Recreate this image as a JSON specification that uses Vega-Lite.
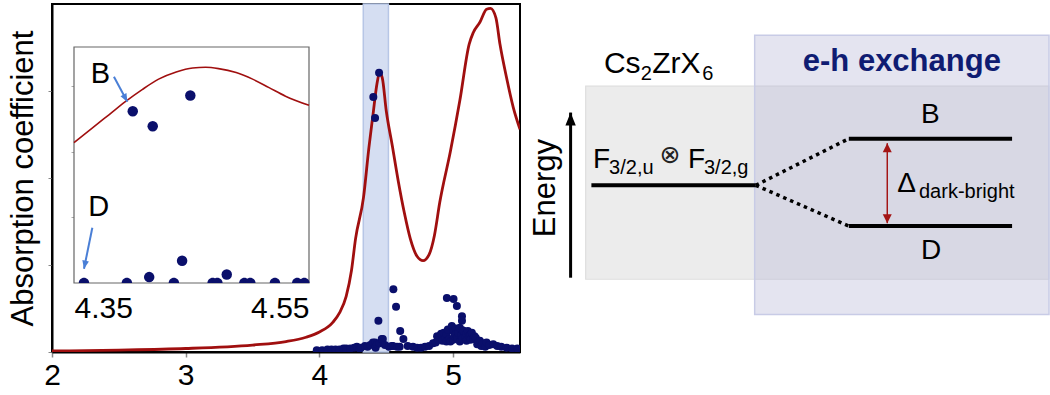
{
  "$schema": "https://vega.github.io/schema/vega-lite/v6.json",
  "background": "white",
  "padding": {"left": 6, "top": 2, "right": 0, "bottom": 0},
  "config": {"font": "Liberation Sans", "view": {"stroke": null}},
  "spacing": 9,
  "bounds": "flush",
  "datasets": {
    "band": [{"energy": 4.328, "energy_end": 4.516}],
    "spectrum": [
      {"energy": 2.0, "absorption": 0.012}, {"energy": 2.5, "absorption": 0.022}, {"energy": 3.0, "absorption": 0.04},
      {"energy": 3.5, "absorption": 0.08}, {"energy": 3.75, "absorption": 0.12}, {"energy": 3.9, "absorption": 0.17},
      {"energy": 4.0, "absorption": 0.23}, {"energy": 4.1, "absorption": 0.34}, {"energy": 4.15, "absorption": 0.45},
      {"energy": 4.2, "absorption": 0.64}, {"energy": 4.24, "absorption": 0.94}, {"energy": 4.27, "absorption": 1.3},
      {"energy": 4.33, "absorption": 1.78}, {"energy": 4.37, "absorption": 2.35}, {"energy": 4.4, "absorption": 2.72},
      {"energy": 4.43, "absorption": 3.08}, {"energy": 4.45, "absorption": 3.21}, {"energy": 4.47, "absorption": 3.15},
      {"energy": 4.5, "absorption": 2.77}, {"energy": 4.545, "absorption": 2.37}, {"energy": 4.59, "absorption": 1.96},
      {"energy": 4.635, "absorption": 1.6}, {"energy": 4.68, "absorption": 1.3}, {"energy": 4.73, "absorption": 1.1},
      {"energy": 4.775, "absorption": 1.05}, {"energy": 4.82, "absorption": 1.12}, {"energy": 4.86, "absorption": 1.34},
      {"energy": 4.9, "absorption": 1.72}, {"energy": 4.98, "absorption": 2.31}, {"energy": 5.05, "absorption": 2.89},
      {"energy": 5.12, "absorption": 3.54}, {"energy": 5.15, "absorption": 3.67}, {"energy": 5.2, "absorption": 3.79},
      {"energy": 5.25, "absorption": 3.94}, {"energy": 5.28, "absorption": 3.95}, {"energy": 5.32, "absorption": 3.84},
      {"energy": 5.35, "absorption": 3.54}, {"energy": 5.4, "absorption": 3.15}, {"energy": 5.45, "absorption": 2.81},
      {"energy": 5.5, "absorption": 2.56}
    ],
    "states": [
      {"energy": 3.98, "strength": 0.02}, {"energy": 4.02, "strength": 0.02}, {"energy": 4.06, "strength": 0.03},
      {"energy": 4.09, "strength": 0.03}, {"energy": 4.12, "strength": 0.03}, {"energy": 4.15, "strength": 0.03},
      {"energy": 4.18, "strength": 0.04}, {"energy": 4.2, "strength": 0.04}, {"energy": 4.23, "strength": 0.04},
      {"energy": 4.26, "strength": 0.05}, {"energy": 4.28, "strength": 0.06}, {"energy": 4.3, "strength": 0.04},
      {"energy": 4.31, "strength": 0.05}, {"energy": 4.34, "strength": 0.07}, {"energy": 4.36, "strength": 0.06},
      {"energy": 4.38, "strength": 0.08}, {"energy": 4.4, "strength": 0.11}, {"energy": 4.416, "strength": 0.11},
      {"energy": 4.42, "strength": 0.05}, {"energy": 4.43, "strength": 0.09}, {"energy": 4.45, "strength": 0.1},
      {"energy": 4.466, "strength": 0.15}, {"energy": 4.474, "strength": 0.15}, {"energy": 4.49, "strength": 0.08},
      {"energy": 4.52, "strength": 0.06}, {"energy": 4.54, "strength": 0.07}, {"energy": 4.55, "strength": 0.07},
      {"energy": 4.58, "strength": 0.06}, {"energy": 4.6, "strength": 0.06}, {"energy": 4.66, "strength": 0.07},
      {"energy": 4.7, "strength": 0.06}, {"energy": 4.73, "strength": 0.05}, {"energy": 4.76, "strength": 0.05},
      {"energy": 4.79, "strength": 0.06}, {"energy": 4.82, "strength": 0.07}, {"energy": 4.85, "strength": 0.1},
      {"energy": 4.87, "strength": 0.11}, {"energy": 4.88, "strength": 0.18}, {"energy": 4.89, "strength": 0.14},
      {"energy": 4.9, "strength": 0.18}, {"energy": 4.91, "strength": 0.21}, {"energy": 4.92, "strength": 0.13},
      {"energy": 4.93, "strength": 0.22}, {"energy": 4.94, "strength": 0.16}, {"energy": 4.95, "strength": 0.2},
      {"energy": 4.95, "strength": 0.12}, {"energy": 4.96, "strength": 0.26}, {"energy": 4.97, "strength": 0.15},
      {"energy": 4.98, "strength": 0.12}, {"energy": 4.99, "strength": 0.3}, {"energy": 5.0, "strength": 0.24},
      {"energy": 5.0, "strength": 0.14}, {"energy": 5.01, "strength": 0.18}, {"energy": 5.02, "strength": 0.27},
      {"energy": 5.02, "strength": 0.2}, {"energy": 5.03, "strength": 0.16}, {"energy": 5.04, "strength": 0.22},
      {"energy": 5.05, "strength": 0.28}, {"energy": 5.05, "strength": 0.12}, {"energy": 5.06, "strength": 0.19},
      {"energy": 5.07, "strength": 0.25}, {"energy": 5.07, "strength": 0.15}, {"energy": 5.08, "strength": 0.24},
      {"energy": 5.09, "strength": 0.17}, {"energy": 5.1, "strength": 0.21}, {"energy": 5.1, "strength": 0.13},
      {"energy": 5.11, "strength": 0.24}, {"energy": 5.12, "strength": 0.18}, {"energy": 5.13, "strength": 0.2},
      {"energy": 5.13, "strength": 0.14}, {"energy": 5.14, "strength": 0.22}, {"energy": 5.15, "strength": 0.15},
      {"energy": 5.16, "strength": 0.18}, {"energy": 5.17, "strength": 0.16}, {"energy": 5.18, "strength": 0.09},
      {"energy": 5.19, "strength": 0.12}, {"energy": 5.2, "strength": 0.13}, {"energy": 5.21, "strength": 0.07},
      {"energy": 5.22, "strength": 0.1}, {"energy": 5.24, "strength": 0.06}, {"energy": 5.25, "strength": 0.11},
      {"energy": 5.27, "strength": 0.08}, {"energy": 5.3, "strength": 0.09}, {"energy": 5.33, "strength": 0.07},
      {"energy": 5.36, "strength": 0.06}, {"energy": 5.4, "strength": 0.05}, {"energy": 5.44, "strength": 0.04},
      {"energy": 5.48, "strength": 0.04},
      {"energy": 4.403, "strength": 2.93}, {"energy": 4.416, "strength": 2.69}, {"energy": 4.446, "strength": 3.21},
      {"energy": 4.441, "strength": 0.36}, {"energy": 4.553, "strength": 0.72}, {"energy": 4.573, "strength": 0.52},
      {"energy": 4.604, "strength": 0.24}, {"energy": 4.628, "strength": 0.15}, {"energy": 4.953, "strength": 0.62},
      {"energy": 5.003, "strength": 0.61}, {"energy": 5.028, "strength": 0.53}, {"energy": 5.066, "strength": 0.41},
      {"energy": 5.066, "strength": 0.36}
    ],
    "inset_frame": [{"energy": 4.35, "energy_end": 4.55, "absorption": 0, "absorption_end": 3.6}],
    "inset_spectrum": [
      {"energy": 4.35, "absorption": 2.14}, {"energy": 4.366, "absorption": 2.37}, {"energy": 4.38, "absorption": 2.57},
      {"energy": 4.394, "absorption": 2.77}, {"energy": 4.408, "absorption": 2.95}, {"energy": 4.422, "absorption": 3.11},
      {"energy": 4.437, "absorption": 3.22}, {"energy": 4.451, "absorption": 3.28}, {"energy": 4.462, "absorption": 3.29},
      {"energy": 4.473, "absorption": 3.27}, {"energy": 4.488, "absorption": 3.21}, {"energy": 4.502, "absorption": 3.11},
      {"energy": 4.516, "absorption": 2.98}, {"energy": 4.53, "absorption": 2.85}, {"energy": 4.55, "absorption": 2.71}
    ],
    "inset_states": [
      {"energy": 4.3585, "strength": 0}, {"energy": 4.395, "strength": 0}, {"energy": 4.414, "strength": 0.09},
      {"energy": 4.435, "strength": 0}, {"energy": 4.442, "strength": 0.34}, {"energy": 4.468, "strength": 0},
      {"energy": 4.472, "strength": 0}, {"energy": 4.48, "strength": 0.13}, {"energy": 4.495, "strength": 0},
      {"energy": 4.5, "strength": 0}, {"energy": 4.521, "strength": 0}, {"energy": 4.54, "strength": 0},
      {"energy": 4.546, "strength": 0}, {"energy": 4.4, "strength": 2.62}, {"energy": 4.417, "strength": 2.39},
      {"energy": 4.449, "strength": 2.86}
    ],
    "inset_labels": [
      {"label": "B", "energy": 4.3642, "absorption": 3.05},
      {"label": "D", "energy": 4.3622, "absorption": 1.02}
    ],
    "inset_arrows": [
      {"target": "B", "energy": 4.384, "absorption": 3.145, "energy_end": 4.3954, "absorption_end": 2.764},
      {"target": "D", "energy": 4.3656, "absorption": 0.843, "energy_end": 4.3585, "absorption_end": 0.218}
    ],
    "panels": [
      {"panel": "Cs2ZrX6", "position": 10.9, "position_end": 100, "energy": 20.9, "energy_end": 76.4},
      {"panel": "e-h exchange", "position": 43.4, "position_end": 100, "energy": 10.8, "energy_end": 91.0}
    ],
    "levels": [
      {"state": "F", "position": 12.0, "position_end": 43.6, "energy": 47.9},
      {"state": "B", "position": 61.5, "position_end": 92.9, "energy": 61.3},
      {"state": "D", "position": 61.5, "position_end": 92.9, "energy": 36.2}
    ],
    "splitting": [
      {"to": "B", "position": 43.6, "energy": 47.9, "position_end": 61.5, "energy_end": 61.3},
      {"to": "D", "position": 43.6, "energy": 47.9, "position_end": 61.5, "energy_end": 36.2}
    ],
    "arrows": [
      {"arrow": "energy", "position": 8.0, "energy": 21.35, "energy_end": 68.8},
      {"arrow": "gap", "position": 68.9, "energy": 37.0, "energy_end": 60.0}
    ],
    "texts": [
      {"role": "title", "label": "Cs", "position": 14.4, "energy": 80.3},
      {"role": "title", "label": "ZrX", "position": 23.7, "energy": 80.3},
      {"role": "subscript", "label": "2", "position": 21.5, "energy": 78.2},
      {"role": "subscript", "label": "6", "position": 33.3, "energy": 78.2},
      {"role": "header", "label": "e-h exchange", "position": 71.7, "energy": 80.7},
      {"role": "symbol", "label": "B", "position": 75.4, "energy": 65.9},
      {"role": "symbol", "label": "D", "position": 75.4, "energy": 26.6},
      {"role": "symbol", "label": "F", "position": 12.3, "energy": 53.0},
      {"role": "symbol", "label": "F", "position": 30.6, "energy": 53.0},
      {"role": "symbol", "label": "Δ", "position": 70.8, "energy": 46.1},
      {"role": "subscript", "label": "3/2,u", "position": 15.4, "energy": 51.1},
      {"role": "subscript", "label": "3/2,g", "position": 33.65, "energy": 51.1},
      {"role": "subscript", "label": "dark-bright", "position": 75.0, "energy": 44.3},
      {"role": "operator", "label": "⊗", "position": 27.1, "energy": 56.6},
      {"role": "axis", "label": "Energy", "position": 3.2, "energy": 47.1}
    ]
  },
  "hconcat": [
    {
      "width": 468,
      "height": 348,
      "view": {"stroke": "black", "strokeWidth": 2},
      "resolve": {"scale": {"x": "independent", "y": "independent"}, "axis": {"x": "independent", "y": "independent"}},
      "layer": [
        {
          "encoding": {
            "x": {"field": "energy", "type": "quantitative", "scale": {"domain": [2, 5.5], "nice": false, "zero": false},
              "axis": {"title": null, "values": [2, 3, 4, 5], "labelFontSize": 30, "labelColor": "black", "labelPadding": 3, "labelFlush": false, "tickSize": 5, "tickColor": "#888", "tickWidth": 1.5, "domainColor": "black", "domainWidth": 2, "grid": false}}
          },
          "layer": [
            {"data": {"name": "band"}, "mark": {"type": "rect", "fill": "#d5def2", "stroke": "#b7c6e6", "strokeWidth": 1.5},
              "encoding": {"x2": {"field": "energy_end"}}},
            {"data": {"name": "spectrum"}, "mark": {"type": "line", "color": "#a00f0f", "strokeWidth": 2.8, "interpolate": "monotone", "clip": true},
              "encoding": {"y": {"field": "absorption", "type": "quantitative", "scale": {"domain": [0, 4], "nice": false},
                "axis": {"title": "Absorption coefficient", "titleFontSize": 31, "titleFontWeight": "normal", "titleColor": "black", "titlePadding": 8, "labels": false, "values": [0, 1, 2, 3], "tickSize": 4, "tickColor": "#888", "domainColor": "black", "domainWidth": 2, "grid": false}}}},
            {"data": {"name": "states"}, "mark": {"type": "circle", "color": "#0a0f6b", "opacity": 1, "size": 64, "clip": true},
              "encoding": {"y": {"field": "strength", "type": "quantitative", "scale": {"domain": [0, 4], "nice": false},
                "axis": {"title": "Absorption coefficient", "titleFontSize": 31, "titleFontWeight": "normal", "titleColor": "black", "titlePadding": 8, "labels": false, "values": [0, 1, 2, 3], "tickSize": 4, "tickColor": "#888", "domainColor": "black", "domainWidth": 2, "grid": false}}}}
          ]
        },
        {
          "encoding": {
            "x": {"field": "energy", "type": "quantitative", "scale": {"domain": [4.35, 4.55], "range": [22, 257], "nice": false, "zero": false},
              "axis": {"orient": "bottom", "offset": -69, "title": null, "values": [4.35, 4.55], "format": ".2f", "labelFontSize": 30, "labelColor": "black", "labelFlush": true, "labelPadding": 10, "ticks": false, "domain": false, "grid": false}},
            "y": {"field": "absorption", "type": "quantitative", "scale": {"domain": [0, 3.6], "range": [279, 43], "nice": false},
              "axis": {"orient": "left", "offset": -22, "title": null, "labels": false, "values": [1, 2, 3], "tickSize": 3, "tickColor": "#aaa", "domain": false, "grid": false}}
          },
          "layer": [
            {"data": {"name": "inset_frame"}, "mark": {"type": "rect", "fill": "white", "stroke": "#666", "strokeWidth": 1.2},
              "encoding": {"x2": {"field": "energy_end"}, "y2": {"field": "absorption_end"}}},
            {"data": {"name": "inset_spectrum"}, "mark": {"type": "line", "color": "#a00f0f", "strokeWidth": 1.6, "interpolate": "monotone"}},
            {"data": {"name": "inset_states"}, "transform": [{"filter": "datum.strength > 0"}],
              "mark": {"type": "circle", "color": "#0a0f6b", "opacity": 1, "size": 110},
              "encoding": {"y": {"field": "strength", "type": "quantitative", "title": null}}},
            {"data": {"name": "inset_states"}, "transform": [{"filter": "datum.strength == 0"}],
              "mark": {"type": "point", "shape": "M-1,0A1,1,0,0,1,1,0Z", "filled": true, "color": "#0a0f6b", "opacity": 1, "size": 110},
              "encoding": {"y": {"field": "strength", "type": "quantitative", "title": null}}},
            {"data": {"name": "inset_arrows"}, "mark": {"type": "rule", "color": "#4a7fd6", "strokeWidth": 2},
              "encoding": {"x2": {"field": "energy_end"}, "y2": {"field": "absorption_end"}}},
            {"data": {"name": "inset_arrows"}, "transform": [{"filter": "datum.target == 'B'"}],
              "mark": {"type": "point", "shape": "M0,-1L0.8,1L-0.8,1Z", "filled": true, "color": "#4a7fd6", "opacity": 1, "size": 70, "angle": 152, "xOffset": -1.9, "yOffset": -3.5},
              "encoding": {"x": {"field": "energy_end", "type": "quantitative"}, "y": {"field": "absorption_end", "type": "quantitative"}}},
            {"data": {"name": "inset_arrows"}, "transform": [{"filter": "datum.target == 'D'"}],
              "mark": {"type": "point", "shape": "M0,-1L0.8,1L-0.8,1Z", "filled": true, "color": "#4a7fd6", "opacity": 1, "size": 70, "angle": 191.7, "xOffset": 0.8, "yOffset": -3.9},
              "encoding": {"x": {"field": "energy_end", "type": "quantitative"}, "y": {"field": "absorption_end", "type": "quantitative"}}},
            {"data": {"name": "inset_labels"}, "mark": {"type": "text", "fontSize": 29, "color": "black", "align": "left", "baseline": "alphabetic"},
              "encoding": {"text": {"field": "label"}}}
          ]
        }
      ]
    },
    {
      "width": 520,
      "height": 348,
      "view": {"stroke": null},
      "encoding": {
        "x": {"field": "position", "type": "quantitative", "scale": {"domain": [0, 100], "nice": false, "zero": false}, "axis": null},
        "y": {"field": "energy", "type": "quantitative", "scale": {"domain": [0, 100], "nice": false, "zero": false}, "axis": null}
      },
      "layer": [
        {"data": {"name": "panels"}, "transform": [{"filter": "datum.panel == 'Cs2ZrX6'"}],
          "mark": {"type": "rect", "fill": "#ececec", "stroke": "#dedede", "strokeWidth": 1.2},
          "encoding": {"x2": {"field": "position_end"}, "y2": {"field": "energy_end"}}},
        {"data": {"name": "panels"}, "transform": [{"filter": "datum.panel == 'e-h exchange'"}],
          "mark": {"type": "rect", "fill": "#b6b6d6", "fillOpacity": 0.37, "stroke": "#c8cbe6", "strokeWidth": 1.5},
          "encoding": {"x2": {"field": "position_end"}, "y2": {"field": "energy_end"}}},
        {"data": {"name": "levels"}, "mark": {"type": "rule", "color": "black", "strokeWidth": 4},
          "encoding": {"x2": {"field": "position_end"}}},
        {"data": {"name": "splitting"}, "mark": {"type": "rule", "color": "black", "strokeWidth": 3.5, "strokeDash": [3.5, 4]},
          "encoding": {"x2": {"field": "position_end"}, "y2": {"field": "energy_end"}}},
        {"data": {"name": "arrows"}, "transform": [{"filter": "datum.arrow == 'energy'"}],
          "mark": {"type": "rule", "color": "black", "strokeWidth": 3},
          "encoding": {"y2": {"field": "energy_end"}}},
        {"data": {"name": "arrows"}, "transform": [{"filter": "datum.arrow == 'energy'"}],
          "mark": {"type": "point", "shape": "M0,-1L0.8,1L-0.8,1Z", "filled": true, "color": "black", "opacity": 1, "size": 169, "yOffset": 6.5},
          "encoding": {"y": {"field": "energy_end", "type": "quantitative"}}},
        {"data": {"name": "arrows"}, "transform": [{"filter": "datum.arrow == 'gap'"}],
          "mark": {"type": "rule", "color": "#a31515", "strokeWidth": 1.5},
          "encoding": {"y2": {"field": "energy_end"}}},
        {"data": {"name": "arrows"}, "transform": [{"filter": "datum.arrow == 'gap'"}],
          "mark": {"type": "point", "shape": "M0,-1L1,1L-1,1Z", "filled": true, "color": "#a31515", "opacity": 1, "size": 81, "yOffset": 4.5},
          "encoding": {"y": {"field": "energy_end", "type": "quantitative"}}},
        {"data": {"name": "arrows"}, "transform": [{"filter": "datum.arrow == 'gap'"}],
          "mark": {"type": "point", "shape": "M0,1L1,-1L-1,-1Z", "filled": true, "color": "#a31515", "opacity": 1, "size": 81, "yOffset": -4.5}},
        {"data": {"name": "texts"}, "transform": [{"filter": "datum.role == 'title'"}],
          "mark": {"type": "text", "fontSize": 30, "color": "black", "align": "left", "baseline": "alphabetic"},
          "encoding": {"text": {"field": "label"}}},
        {"data": {"name": "texts"}, "transform": [{"filter": "datum.role == 'symbol'"}],
          "mark": {"type": "text", "fontSize": 28, "color": "black", "align": "left", "baseline": "alphabetic"},
          "encoding": {"text": {"field": "label"}}},
        {"data": {"name": "texts"}, "transform": [{"filter": "datum.role == 'subscript'"}],
          "mark": {"type": "text", "fontSize": 20, "color": "black", "align": "left", "baseline": "alphabetic"},
          "encoding": {"text": {"field": "label"}}},
        {"data": {"name": "texts"}, "transform": [{"filter": "datum.role == 'header'"}],
          "mark": {"type": "text", "fontSize": 31, "fontWeight": "bold", "color": "#0f1c72", "align": "center", "baseline": "alphabetic"},
          "encoding": {"text": {"field": "label"}}},
        {"data": {"name": "texts"}, "transform": [{"filter": "datum.role == 'operator'"}],
          "mark": {"type": "text", "fontSize": 25, "font": "DejaVu Sans", "color": "#222", "align": "center", "baseline": "middle"},
          "encoding": {"text": {"field": "label"}}},
        {"data": {"name": "texts"}, "transform": [{"filter": "datum.role == 'axis'"}],
          "mark": {"type": "text", "fontSize": 31, "color": "black", "align": "center", "baseline": "middle", "angle": 270},
          "encoding": {"text": {"field": "label"}}}
      ]
    }
  ]
}
